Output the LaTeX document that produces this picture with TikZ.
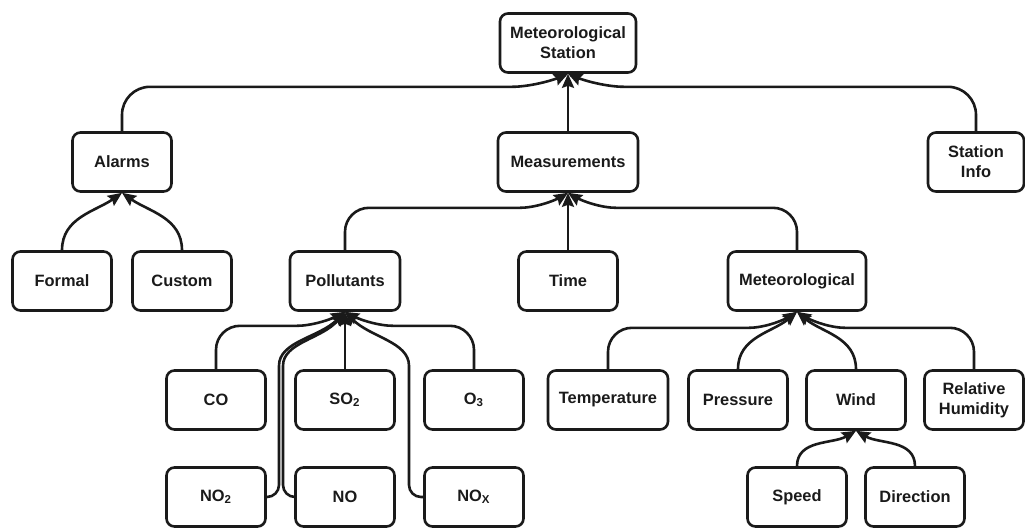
\documentclass[tikz,border=0pt]{standalone}
\usepackage{fontspec}
\setmainfont{Liberation Sans}
\usetikzlibrary{arrows.meta}
\definecolor{msink}{HTML}{1A1A1A}

\tikzset{
  box/.style={draw=msink, line width=1.3pt, fill=white, rounded corners=4pt,
    minimum width=49.5pt, minimum height=29.5pt, inner sep=1pt, align=center,
    font=\fontsize{8.2}{10}\selectfont\bfseries, text=msink},
  link/.style={draw=msink, line width=1.3pt, rounded corners=7pt,
    -{Stealth[length=7pt,width=6pt,inset=1pt]}},
}

\begin{document}
\begin{tikzpicture}[x=0.5pt, y=-0.5pt]
  \useasboundingbox (0,0) rectangle (1025,527);
  % top levels
  \node[box, minimum width=68pt] (station) at (568,43) {Meteorological\\Station};
  \node[box] (alarms) at (122,162) {Alarms};
  \node[box, minimum width=70pt] (measure) at (568,162) {Measurements};
  \node[box, minimum width=48pt] (info) at (976,162) {Station\\Info};
  \node[box] (formal) at (62,281) {Formal};
  \node[box] (custom) at (182,281) {Custom};
  \node[box, minimum width=55pt] (pollut) at (345,281) {Pollutants};
  \node[box] (time) at (568,281) {Time};
  \node[box, minimum width=69pt] (meteo) at (797,281) {Meteorological};
  % leaves
  \node[box] (co) at (216,400) {CO};
  \node[box] (so2) at (345,400) {SO\textsubscript{2}};
  \node[box] (o3) at (474,400) {O\textsubscript{3}};
  \node[box, minimum width=60pt] (temp) at (608,400) {Temperature};
  \node[box] (press) at (738,400) {Pressure};
  \node[box] (wind) at (856,400) {Wind};
  \node[box] (rh) at (974,400) {Relative\\Humidity};
  \node[box] (no2) at (216,497) {NO\textsubscript{2}};
  \node[box] (no) at (345,497) {NO};
  \node[box] (nox) at (474,497) {NO\textsubscript{X}};
  \node[box] (speed) at (797,497) {Speed};
  \node[box] (dir) at (915,497) {Direction};

  % station
  \draw[link, rounded corners=14pt] (alarms.north) |- ([xshift=-14pt,yshift=-6.5pt]station.south) -- (station.south);
  \draw[link] (measure.north) -- (station.south);
  \draw[link, rounded corners=14pt] (info.north) |- ([xshift=14pt,yshift=-6.5pt]station.south) -- (station.south);
  % alarms
  \draw[link] (formal.north) to[out=90, in=-145] (alarms.south);
  \draw[link] (custom.north) to[out=90, in=-35] (alarms.south);
  % measurements
  \draw[link, rounded corners=12pt] (pollut.north) |- ([xshift=-12pt,yshift=-7.5pt]measure.south) -- (measure.south);
  \draw[link] (time.north) -- (measure.south);
  \draw[link, rounded corners=12pt] (meteo.north) |- ([xshift=12pt,yshift=-7.5pt]measure.south) -- (measure.south);
  % pollutants
  \draw[link, rounded corners=12pt] (co.north) |- ([xshift=-12pt,yshift=-7pt]pollut.south) -- (pollut.south);
  \draw[link] (so2.north) -- (pollut.south);
  \draw[link, rounded corners=12pt] (o3.north) |- ([xshift=12pt,yshift=-7pt]pollut.south) -- (pollut.south);
  \draw[link, rounded corners=6pt] (no2.east) -| ([xshift=-33pt,yshift=-33pt]pollut.south) to[out=90, in=-135] (pollut.south);
  \draw[link, rounded corners=6pt] (no.west) -| ([xshift=-31pt,yshift=-33pt]pollut.south) to[out=90, in=-130] (pollut.south);
  \draw[link, rounded corners=6pt] (nox.west) -| ([xshift=32pt,yshift=-33pt]pollut.south) to[out=90, in=-45] (pollut.south);
  % meteorological
  \draw[link, rounded corners=12pt] (temp.north) |- ([xshift=-12pt,yshift=-8pt]meteo.south) -- (meteo.south);
  \draw[link] (press.north) to[out=90, in=-140] (meteo.south);
  \draw[link] (wind.north) to[out=90, in=-40] (meteo.south);
  \draw[link, rounded corners=12pt] (rh.north) |- ([xshift=12pt,yshift=-8pt]meteo.south) -- (meteo.south);
  % wind
  \draw[link] (speed.north) to[out=90, in=-150] (wind.south);
  \draw[link] (dir.north) to[out=90, in=-30] (wind.south);
\end{tikzpicture}
\end{document}
